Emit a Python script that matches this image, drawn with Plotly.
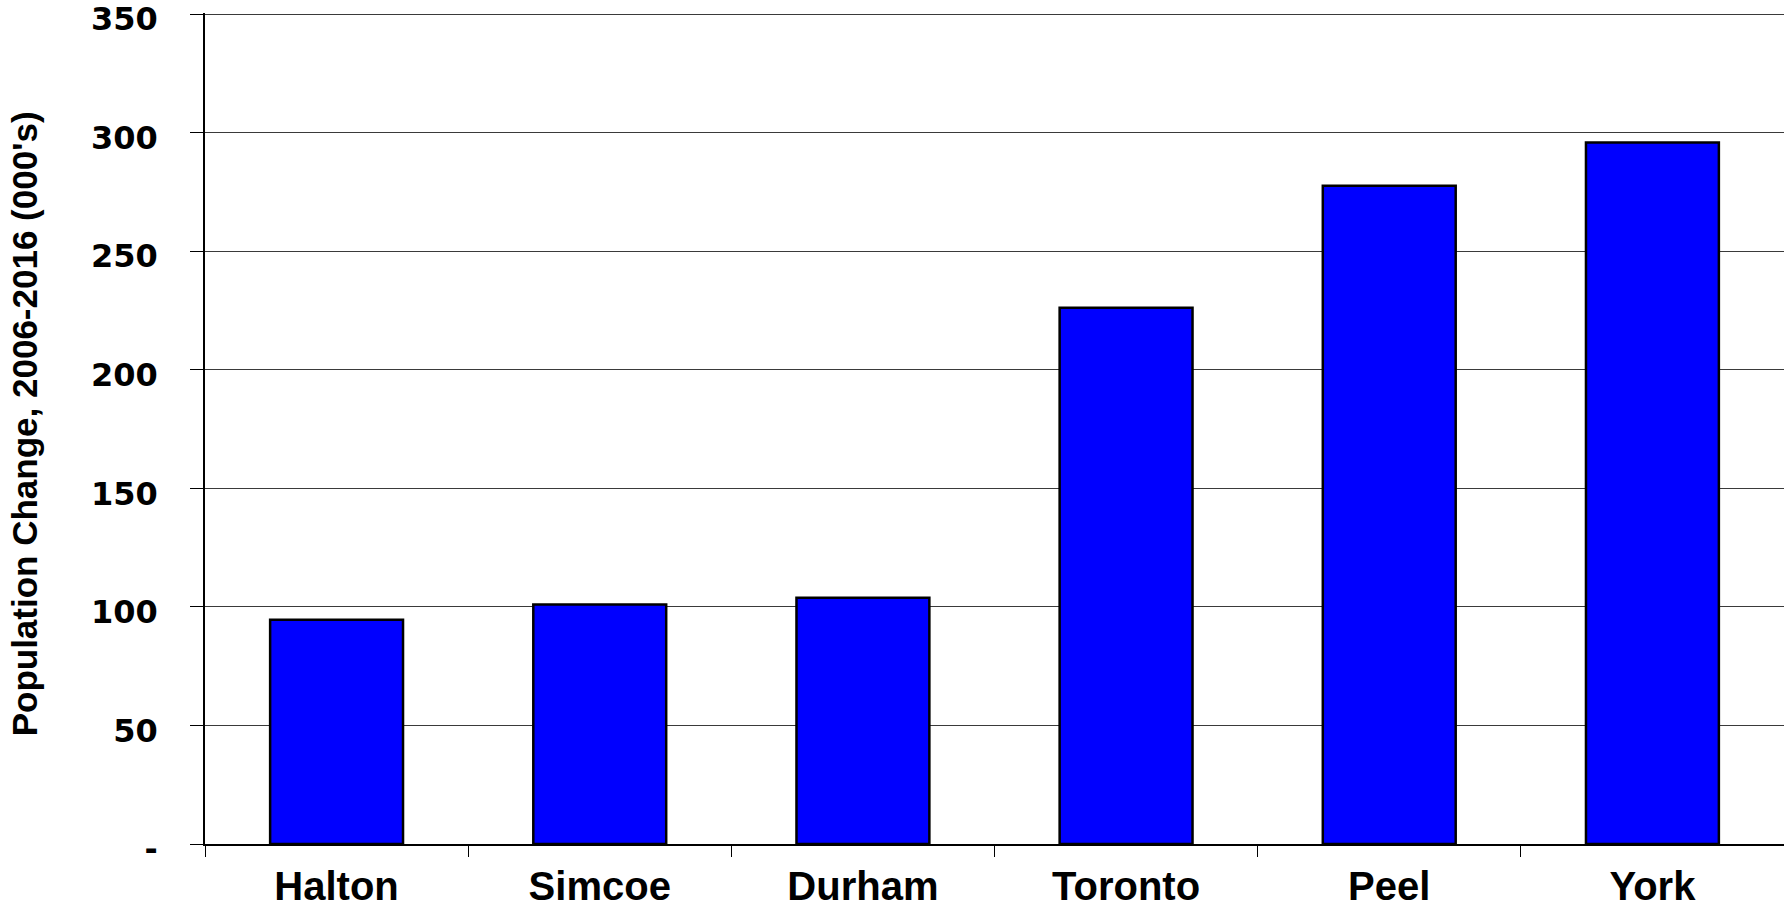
import plotly.graph_objects as go

# Population change by region, 2006-2016 (thousands)
regions = ["Halton", "Simcoe", "Durham", "Toronto", "Peel", "York"]
change_000s = [94.6, 101.0, 103.9, 226.2, 277.6, 295.9]

# Y-axis ticks (zero shown as a dash)
y_tick_values = [0, 50, 100, 150, 200, 250, 300, 350]
y_tick_labels = ["-", "50", "100", "150", "200", "250", "300", "350"]

y_title = "Population Change, 2006-2016 (000's)"

fig = go.Figure(
    go.Bar(
        x=regions,
        y=change_000s,
        width=0.505,
        marker=dict(color="#0000FF", line=dict(color="#000000", width=2.5)),
        hoverinfo="x+y",
    )
)

fig.update_layout(
    width=1784,
    height=912,
    margin=dict(l=205, r=0, t=13, b=68),
    paper_bgcolor="white",
    plot_bgcolor="white",
    showlegend=False,
    font=dict(family="Liberation Sans, Arial, sans-serif", color="black"),
)

fig.update_xaxes(
    type="category",
    automargin=False,
    showline=True,
    linecolor="black",
    linewidth=1.5,
    ticks="outside",
    tickson="boundaries",
    ticklen=11,
    tickwidth=1.2,
    tickcolor="black",
    showgrid=False,
    tickfont=dict(family="Liberation Sans, Arial, sans-serif", size=40, weight="bold"),
    ticklabelstandoff=6,
)

# a little headroom above 350 so its gridline is kept
fig.update_yaxes(
    range=[0, 350.5],
    automargin=False,
    tickvals=y_tick_values,
    ticktext=y_tick_labels,
    showline=True,
    linecolor="black",
    linewidth=1.5,
    ticks="outside",
    ticklen=13,
    tickwidth=1.2,
    tickcolor="black",
    showgrid=True,
    gridcolor="#3a3a3a",
    gridwidth=1.2,
    zeroline=False,
    tickfont=dict(family="DejaVu Sans, Verdana, sans-serif", size=32, weight="bold"),
    ticklabelstandoff=26,
    ticklabelshift=5,
    ticklabeloverflow="allow",
)

# Rotated y-axis title placed to the left of the tick labels
fig.add_annotation(
    text=y_title,
    xref="paper",
    yref="paper",
    x=(24 - 205) / 1579,
    y=0.505,
    xanchor="center",
    yanchor="middle",
    textangle=-90,
    showarrow=False,
    font=dict(family="Liberation Sans, Arial, sans-serif",
              size=35, weight="bold", color="black"),
)

fig.write_html("out.html")
